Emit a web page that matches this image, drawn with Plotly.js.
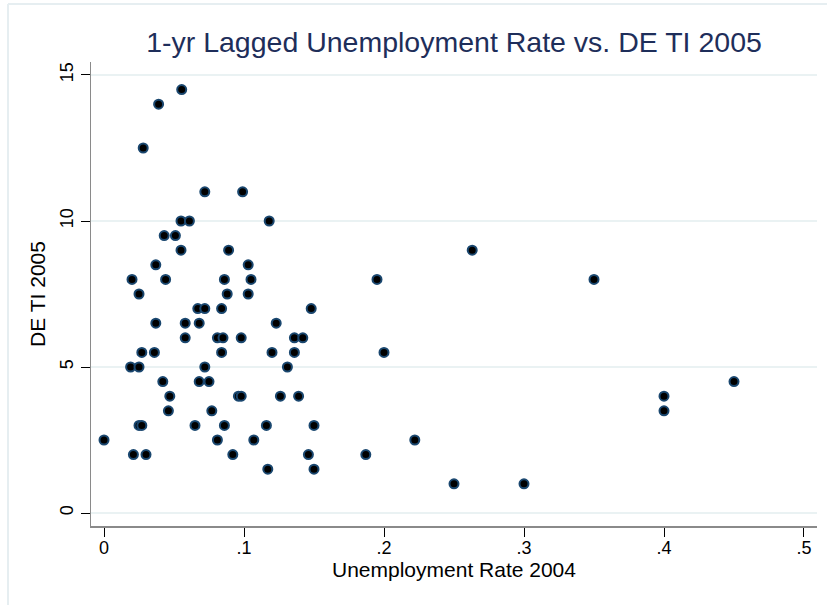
<!DOCTYPE html>
<html>
<head>
<meta charset="utf-8">
<script src="https://cdn.plot.ly/plotly-3.0.1.min.js"></script>
<style>
  html, body { margin: 0; padding: 0; background: #ffffff; }
  #chart { width: 827px; height: 605px; }
</style>
</head>
<body>
<div id="chart"></div>
<script>
// Unemployment Rate 2004 (x) and DE TI 2005 (y)
const unemploymentRate2004 = [
  0.0555, 0.039, 0.028, 0.072, 0.099, 0.055, 0.061, 0.118, 0.043, 0.051,
  0.055, 0.089, 0.037, 0.103, 0.020, 0.044, 0.086, 0.105, 0.195, 0.350,
  0.263, 0.025, 0.088, 0.103, 0.067, 0.072, 0.084, 0.148, 0.037, 0.058,
  0.068, 0.123, 0.058, 0.081, 0.085, 0.098, 0.136, 0.142, 0.027, 0.036,
  0.084, 0.120, 0.136, 0.200, 0.019, 0.025, 0.072, 0.131, 0.042, 0.068,
  0.075, 0.450, 0.047, 0.096, 0.098, 0.126, 0.139, 0.400, 0.046, 0.077,
  0.400, 0.025, 0.027, 0.065, 0.086, 0.116, 0.150, 0.000, 0.081, 0.107,
  0.222, 0.021, 0.030, 0.092, 0.146, 0.187, 0.117, 0.150, 0.250, 0.300
];
const deTI2005 = [
  14.5, 14.0, 12.5, 11, 11, 10, 10, 10, 9.5, 9.5,
  9, 9, 8.5, 8.5, 8, 8, 8, 8, 8, 8,
  9, 7.5, 7.5, 7.5, 7, 7, 7, 7, 6.5, 6.5,
  6.5, 6.5, 6, 6, 6, 6, 6, 6, 5.5, 5.5,
  5.5, 5.5, 5.5, 5.5, 5, 5, 5, 5, 4.5, 4.5,
  4.5, 4.5, 4, 4, 4, 4, 4, 4, 3.5, 3.5,
  3.5, 3, 3, 3, 3, 3, 3, 2.5, 2.5, 2.5,
  2.5, 2, 2, 2, 2, 2, 1.5, 1.5, 1, 1
];
const xTickVals = [0, 0.1, 0.2, 0.3, 0.4, 0.5];
const xTickText = ['0', '.1', '.2', '.3', '.4', '.5'];
const yTickVals = [0, 5, 10, 15];
const yTickText = ['0', '5', '10', '15'];

const FONT = 'Liberation Sans, Arial, sans-serif';

const trace = {
  type: 'scatter',
  mode: 'markers',
  x: unemploymentRate2004,
  y: deTI2005,
  marker: {
    size: 9,
    color: '#000000',
    line: { color: '#1a476f', width: 2 }
  },
  hoverinfo: 'x+y'
};

const layout = {
  width: 827,
  height: 605,
  paper_bgcolor: '#ffffff',
  plot_bgcolor: '#ffffff',
  margin: { l: 91, r: 10, t: 62, b: 79 },
  showlegend: false,
  font: { family: FONT, color: '#000000' },
  title: {
    text: '1-yr Lagged Unemployment Rate vs. DE TI 2005',
    font: { family: FONT, size: 28.5, color: '#1e2e5a' },
    xref: 'paper', x: 0.5, xanchor: 'center',
    yref: 'container', y: 1 - 42 / 605, yanchor: 'middle'
  },
  xaxis: {
    range: [-0.00929, 0.50929],
    tickvals: xTickVals,
    ticktext: xTickText,
    showgrid: false,
    zeroline: false,
    showline: true,
    linecolor: '#8a8a8a',
    linewidth: 1.5,
    ticks: 'outside',
    ticklen: 9,
    tickwidth: 1,
    tickcolor: '#000000',
    ticklabelstandoff: -4,
    tickfont: { family: FONT, size: 18, color: '#000000' },
    title: {
      text: 'Unemployment Rate 2004',
      font: { family: FONT, size: 21, color: '#000000' },
      standoff: 0
    },
    automargin: false
  },
  yaxis: {
    range: [-0.445, 15.445],
    tickvals: yTickVals,
    ticktext: yTickText,
    tickangle: -90,
    showgrid: true,
    gridcolor: '#eaf2f3',
    gridwidth: 2,
    zeroline: false,
    showline: true,
    linecolor: '#8a8a8a',
    linewidth: 1.5,
    ticks: 'outside',
    ticklen: 9,
    tickwidth: 1,
    tickcolor: '#000000',
    tickfont: { family: FONT, size: 18, color: '#000000' },
    title: {
      text: 'DE TI 2005',
      font: { family: FONT, size: 21, color: '#000000' },
      standoff: 6
    },
    automargin: false
  },
  shapes: [
    { type: 'line', xref: 'paper', yref: 'paper',
      x0: (8 - 91) / 726, x1: (8 - 91) / 726, y0: -0.3, y1: (526 - 4) / 464,
      line: { color: '#e6eef1', width: 2 } },
    { type: 'line', xref: 'paper', yref: 'paper',
      x0: (8 - 91) / 726, x1: 1.1, y0: (526 - 4) / 464, y1: (526 - 4) / 464,
      line: { color: '#e6eef1', width: 2 } }
  ]
};

Plotly.newPlot('chart', [trace], layout, { displayModeBar: false, staticPlot: true });
</script>
</body>
</html>
